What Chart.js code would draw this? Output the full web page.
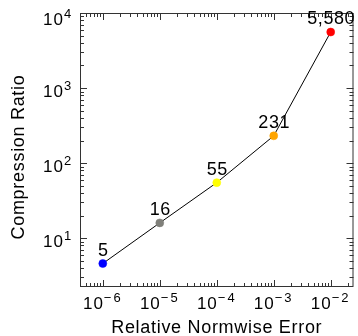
<!DOCTYPE html>
<html>
<head>
<meta charset="utf-8">
<script src="https://cdn.jsdelivr.net/npm/chart.js@4"></script>
<style>
  body { margin: 0; background: #fff; }
</style>
</head>
<body>
<canvas id="myChart" width="358" height="336"></canvas>
<script>
// Data
let errors = [1e-6, 1e-5, 1e-4, 1e-3, 1e-2];
let ratios = [4.6, 16, 55, 231, 5580];
let pointColors = ['#0000ff', '#80807a', '#ffff00', '#ffa500', '#ff0000'];
let xTickExps = [-6, -5, -4, -3, -2];
let yTickExps = [1, 2, 3, 4];
let xTitle = 'Relative Normwise Error';
let yTitle = 'Compression Ratio';

let FONT = '"Liberation Sans", Arial, Helvetica, sans-serif';

// draws "10" with a raised exponent, left edge at x, base baseline at y
function drawPow(ctx, x, y, exp) {
    ctx.font = '17px ' + FONT;
    ctx.letterSpacing = '1px';
    ctx.textAlign = 'left';
    ctx.fillText('10', x, y);
    let w = ctx.measureText('10').width;
    ctx.font = '13px ' + FONT;
    ctx.letterSpacing = exp < 0 ? '2px' : '0px';
    ctx.fillText(String(exp).replace('-', '\u2212'), x + w, y - 7);
}

function powWidth(ctx, exp) {
    ctx.font = '17px ' + FONT;
    ctx.letterSpacing = '1px';
    let w = ctx.measureText('10').width;
    ctx.font = '13px ' + FONT;
    ctx.letterSpacing = exp < 0 ? '2px' : '0px';
    return w + ctx.measureText(String(exp).replace('-', '\u2212')).width;
}

let framePlugin = {
    id: 'frame',
    afterDraw(chart) {
        let ctx = chart.ctx;
        let a = chart.chartArea;
        let xs = chart.scales.x, ys = chart.scales.y;
        ctx.save();

        // box
        ctx.strokeStyle = '#333';
        ctx.lineWidth = 1;
        ctx.strokeRect(a.left + 0.5, a.top + 0.5, a.right - a.left - 1, a.bottom - a.top - 1);

        // inward ticks on all four sides
        ctx.beginPath();
        function eachTick(scale, cb) {
            let lo = Math.floor(Math.log10(scale.min)), hi = Math.ceil(Math.log10(scale.max));
            for (let e = lo; e <= hi; e++) {
                for (let m = 1; m <= 9; m++) {
                    let v = m * Math.pow(10, e);
                    if (v < scale.min || v > scale.max) continue;
                    cb(Math.round(scale.getPixelForValue(v)) + 0.5, m === 1 ? 7 : 4);
                }
            }
        }
        eachTick(xs, function (px, len) {
            ctx.moveTo(px, a.bottom); ctx.lineTo(px, a.bottom - len);
            ctx.moveTo(px, a.top); ctx.lineTo(px, a.top + len);
        });
        eachTick(ys, function (py, len) {
            ctx.moveTo(a.left, py); ctx.lineTo(a.left + len, py);
            ctx.moveTo(a.right, py); ctx.lineTo(a.right - len, py);
        });
        ctx.stroke();

        ctx.fillStyle = '#000';
        ctx.textBaseline = 'alphabetic';

        // x tick labels
        xTickExps.forEach(function (e) {
            let px = xs.getPixelForValue(Math.pow(10, e));
            let w = powWidth(ctx, e);
            drawPow(ctx, px - w / 2, 309, e);
        });

        // y tick labels
        yTickExps.forEach(function (e) {
            let py = ys.getPixelForValue(Math.pow(10, e));
            let base = Math.max(py + 9, 25);
            drawPow(ctx, 43, base, e);
        });

        // axis titles
        ctx.font = '18px ' + FONT;
        ctx.letterSpacing = '0.7px';
        ctx.textAlign = 'center';
        ctx.fillText(xTitle, (a.left + a.right) / 2, 333);
        ctx.save();
        ctx.translate(24, 157);
        ctx.rotate(-Math.PI / 2);
        ctx.fillText(yTitle, 0, 0);
        ctx.restore();

        // value labels above points
        let meta = chart.getDatasetMeta(0);
        ctx.font = '18px ' + FONT;
        ctx.letterSpacing = '0.6px';
        meta.data.forEach(function (pt, i) {
            let txt = Math.round(ratios[i]).toLocaleString('en-US');
            ctx.fillText(txt, pt.x + 0.5, pt.y - 8);
        });

        ctx.restore();
    }
};

let ctx = document.getElementById('myChart').getContext('2d');
let myChart = new Chart(ctx, {
    type: 'line',
    data: {
        datasets: [{
            data: errors.map(function (e, i) { return { x: e, y: ratios[i] }; }),
            borderColor: '#000',
            borderWidth: 1,
            tension: 0,
            pointRadius: 4,
            pointBackgroundColor: pointColors,
            pointBorderColor: pointColors,
            pointBorderWidth: 0.5
        }]
    },
    options: {
        responsive: false,
        animation: false,
        layout: { padding: { left: 80, right: 2, top: 13, bottom: 49 } },
        plugins: { legend: { display: false }, tooltip: { enabled: false } },
        scales: {
            x: { type: 'logarithmic', min: Math.pow(10, -6.4), max: Math.pow(10, -1.6), display: false },
            y: { type: 'logarithmic', min: Math.pow(10, 0.35), max: 1e4, display: false }
        }
    },
    plugins: [framePlugin]
});
</script>
</body>
</html>
